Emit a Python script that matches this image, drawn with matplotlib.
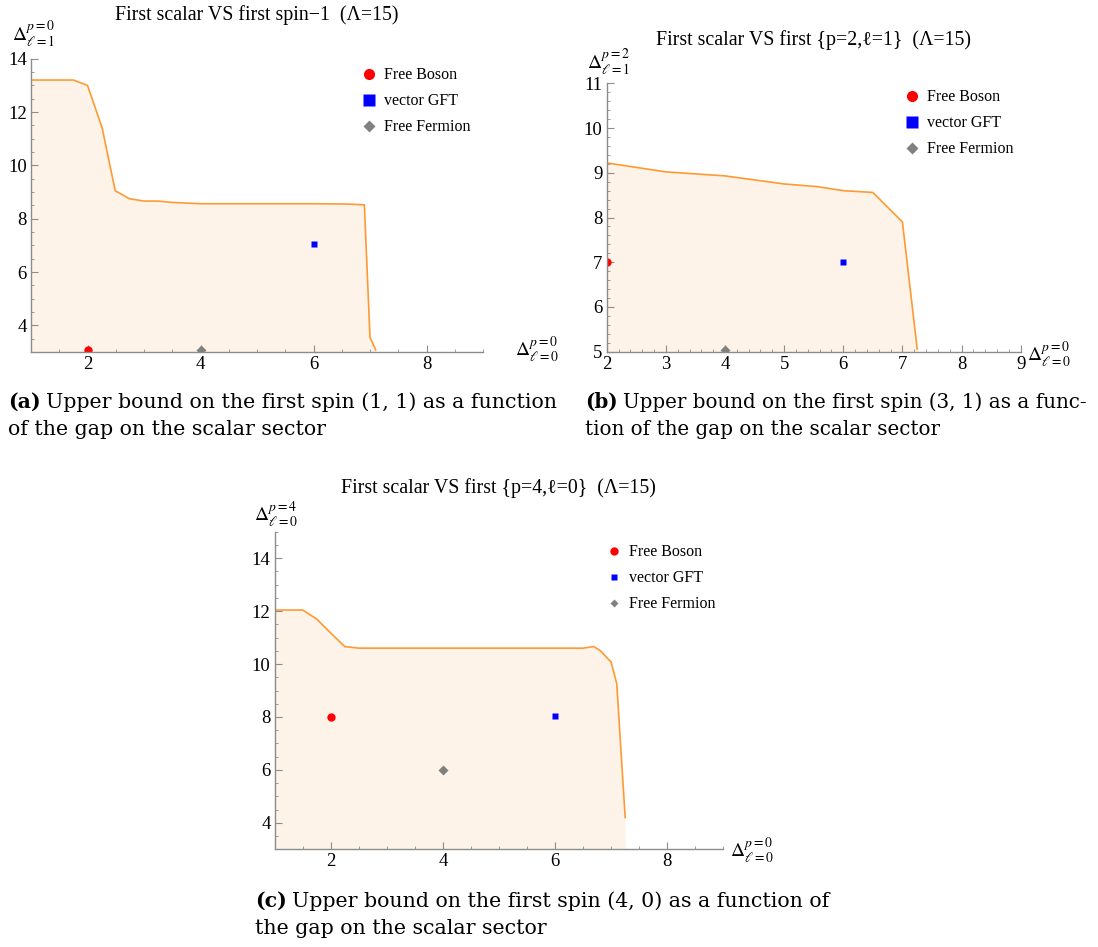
import matplotlib
matplotlib.use("Agg")
import matplotlib.pyplot as plt
from matplotlib.lines import Line2D
from matplotlib.ticker import MultipleLocator

plt.rcParams['font.family'] = ['Liberation Serif', 'DejaVu Serif']
plt.rcParams['mathtext.fontset'] = 'stix'

W, H = 1098, 947

# (a) first scalar vs first spin-1
a_x = [1.0, 1.75, 2.0, 2.26, 2.49, 2.74, 3.0, 3.25, 3.5, 4.0, 5.0, 6.0, 6.58, 6.9, 7.0, 7.1]
a_y = [13.2, 13.2, 13.0, 11.4, 9.05, 8.75, 8.66, 8.66, 8.61, 8.56, 8.56, 8.56, 8.55, 8.52, 3.55, 3.08]
a_boson = (2, 3.08)
a_gft = (6, 7.05)
a_fermion = (4, 3.08)

# (b) first scalar vs first {p=2, l=1}
b_x = [2.0, 3.0, 4.0, 5.0, 5.56, 6.0, 6.5, 7.0, 7.25]
b_y = [9.22, 9.02, 8.93, 8.75, 8.69, 8.6, 8.56, 7.9, 5.06]
b_boson = (2, 7.0)
b_gft = (6, 7.0)
b_fermion = (4, 5.04)

# (c) first scalar vs first {p=4, l=0}
c_x = [1.0, 1.5, 1.75, 2.0, 2.25, 2.5, 3.0, 4.0, 5.0, 6.0, 6.5, 6.69, 6.81, 7.0, 7.1, 7.25]
c_y = [12.04, 12.04, 11.7, 11.17, 10.66, 10.6, 10.6, 10.6, 10.6, 10.6, 10.6, 10.66, 10.5, 10.07, 9.26, 4.2]
c_boson = (2, 8.0)
c_gft = (6, 8.03)
c_fermion = (4, 6.0)

line_col = '#FF9A33'
fill_col = '#FEF3E8'
axis_col = '#8C8C8C'


def rect(left, top, right, bottom):
    return [left / W, (H - bottom) / H, (right - left) / W, (bottom - top) / H]


def ftext(x, y, s, **kw):
    return fig.text(x / W, (H - y) / H, s, **kw)


fig = plt.figure(figsize=(W / 100, H / 100), dpi=100)


def panel(r, xs, ys, xlim, ylim, xmaj, xmin, ymaj, ymin, pts, msz, leg_pos, leg_msz):
    ax = fig.add_axes(r)
    ax.fill_between(xs, ys, ylim[0], color=fill_col, lw=0)
    ax.plot(xs, ys, color=line_col, lw=1.2)
    boson, gft, fermion = pts
    ax.plot(*boson, 'o', color='red', ms=msz[0], mec='none')
    ax.plot(*gft, 's', color='blue', ms=msz[1], mec='none')
    ax.plot(*fermion, 'D', color='gray', ms=msz[2], mec='none')
    ax.set_xlim(*xlim)
    ax.set_ylim(*ylim)
    for s in ['top', 'right']:
        ax.spines[s].set_visible(False)
    for s in ['left', 'bottom']:
        ax.spines[s].set_color(axis_col)
        ax.spines[s].set_linewidth(1.0)
    ax.xaxis.set_major_locator(MultipleLocator(xmaj))
    ax.xaxis.set_minor_locator(MultipleLocator(xmin))
    ax.yaxis.set_major_locator(MultipleLocator(ymaj))
    ax.yaxis.set_minor_locator(MultipleLocator(ymin))
    ax.tick_params(which='both', direction='in', color=axis_col, labelsize=13.5, pad=3)
    ax.tick_params(which='major', length=5)
    ax.tick_params(which='minor', length=2.5)
    handles = [
        Line2D([], [], ls='none', marker='o', color='red', ms=leg_msz[0], mec='none'),
        Line2D([], [], ls='none', marker='s', color='blue', ms=leg_msz[1], mec='none'),
        Line2D([], [], ls='none', marker='D', color='gray', ms=leg_msz[2], mec='none'),
    ]
    ax.legend(handles, ['Free Boson', 'vector GFT', 'Free Fermion'], loc='upper left',
              bbox_to_anchor=leg_pos, frameon=False, fontsize=11.5, borderpad=0,
              borderaxespad=0, handlelength=0.95, handletextpad=0.5, labelspacing=0.62)
    return ax


ax_a = panel(rect(31, 58.7, 483, 352), a_x, a_y, (1, 9), (3, 14), 2, 0.5, 2, 0.5,
             (a_boson, a_gft, a_fermion), (6, 5, 5), (0.73, 0.97), (8, 8, 6.5))
ax_a.set_xticks([2, 4, 6, 8])
ax_a.set_yticks([4, 6, 8, 10, 12, 14])

ax_b = panel(rect(606.7, 83.3, 1020.7, 351.7), b_x, b_y, (2, 9), (5, 11), 1, 0.2, 1, 0.2,
             (b_boson, b_gft, b_fermion), (6, 5, 5), (0.718, 0.977), (8, 8, 6.5))

ax_c = panel(rect(274.7, 531.7, 723.3, 849.3), c_x, c_y, (1, 9), (3, 15), 2, 0.5, 2, 0.5,
             (c_boson, c_gft, c_fermion), (6, 5, 5), (0.739, 0.96), (6, 4.5, 4.5))
ax_c.set_xticks([2, 4, 6, 8])
ax_c.set_yticks([4, 6, 8, 10, 12, 14])

# titles
ftext(257, 15, 'First scalar VS first spin\u22121  (\u039b=15)', ha='center', va='center', fontsize=14.3)
ftext(813, 40, 'First scalar VS first {p=2,\u2113=1}  (\u039b=15)', ha='center', va='center', fontsize=14.3)
ftext(498, 488, 'First scalar VS first {p=4,\u2113=0}  (\u039b=15)', ha='center', va='center', fontsize=14.3)

# axis labels
ftext(12, 41, r'$\Delta_{\ell=1}^{p=0}$', ha='left', va='baseline', fontsize=14)
ftext(515, 357, r'$\Delta_{\ell=0}^{p=0}$', ha='left', va='baseline', fontsize=14)
ftext(587, 69, r'$\Delta_{\ell=1}^{p=2}$', ha='left', va='baseline', fontsize=14)
ftext(1027, 362, r'$\Delta_{\ell=0}^{p=0}$', ha='left', va='baseline', fontsize=14)
ftext(254, 522, r'$\Delta_{\ell=0}^{p=4}$', ha='left', va='baseline', fontsize=14)
ftext(730, 858, r'$\Delta_{\ell=0}^{p=0}$', ha='left', va='baseline', fontsize=14)

# captions
cap = fig.add_axes([0, 0, 1, 1])
cap.axis('off')
cap.set_xlim(0, W)
cap.set_ylim(H, 0)


def caption(x, y, tag, line1, line2, size=14.8):
    kw = dict(fontsize=size, family=['DejaVu Serif'])
    t = cap.text(x, y, tag, fontweight='bold', ha='left', va='baseline', **kw)
    cap.annotate(line1, xy=(1, 0), xycoords=t, xytext=(4, 0), textcoords='offset points',
                 ha='left', va='bottom', **kw)
    cap.text(x, y + 27, line2, ha='left', va='baseline', **kw)


caption(8, 408, '(a)', 'Upper bound on the first spin (1, 1) as a function',
        'of the gap on the scalar sector')
caption(585, 408, '(b)', 'Upper bound on the first spin (3, 1) as a func-',
        'tion of the gap on the scalar sector', size=14.3)
caption(255, 907, '(c)', 'Upper bound on the first spin (4, 0) as a function of',
        'the gap on the scalar sector')

plt.savefig('out.png', dpi=100)
